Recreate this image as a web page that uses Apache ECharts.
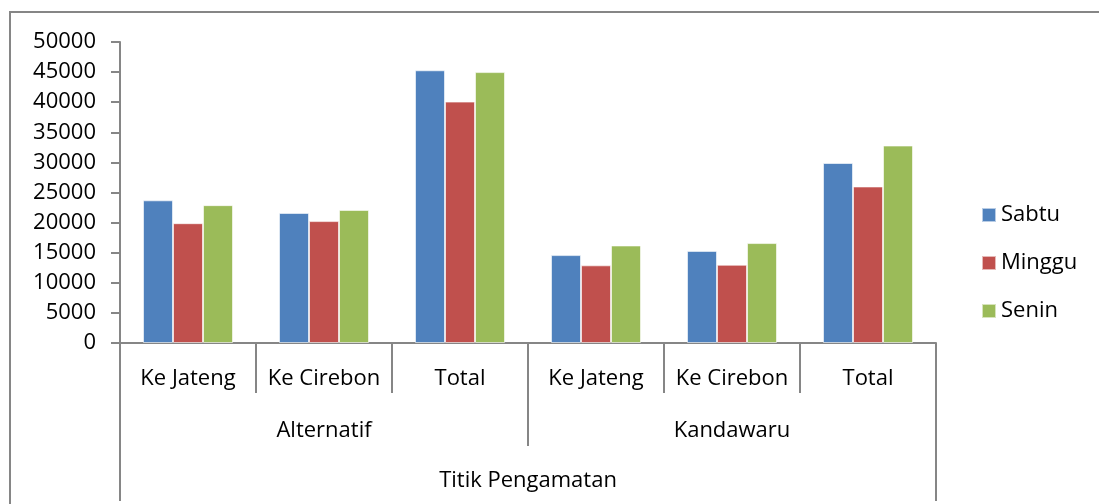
<!DOCTYPE html>
<html>
<head>
<meta charset="utf-8">
<script src="https://cdn.jsdelivr.net/npm/echarts@6/dist/echarts.min.js"></script>
<style>
  html, body { margin: 0; padding: 0; background: #fff; }
  #chart { width: 1099px; height: 504px; }
</style>
</head>
<body>
<div id="chart"></div>
<script>
// categories
var points = ['Ke Jateng', 'Ke Cirebon', 'Total', 'Ke Jateng', 'Ke Cirebon', 'Total'];
var groups = ['Alternatif', 'Kandawaru'];
var outer = ['Titik Pengamatan'];

// series values
var sabtu = [23700, 21600, 45300, 14600, 15300, 29900];
var minggu = [19900, 20250, 40100, 12900, 13000, 26000];
var senin = [22900, 22100, 45000, 16200, 16600, 32800];

var FONT = '"Open Sans", sans-serif';
var gray = '#868686';

var chart = echarts.init(document.getElementById('chart'));

function bar(name, data, color) {
  return {
    name: name,
    type: 'bar',
    data: data,
    barWidth: 30,
    barGap: '0%',
    itemStyle: { color: color, borderColor: 'rgba(255,255,255,0.6)', borderWidth: 1 }
  };
}

var catAxisBase = {
  type: 'category',
  position: 'bottom',
  gridIndex: 0,
  axisLine: { show: false },
  splitLine: { show: false }
};

chart.setOption({
  animation: false,
  textStyle: { fontFamily: FONT },
  graphic: [{
    type: 'polyline',
    shape: { points: [[10, 510], [10, 12], [1110, 12]] },
    style: { stroke: gray, lineWidth: 2, fill: null }
  }],
  grid: { left: 120, right: 163, top: 42, bottom: 161 },
  legend: {
    orient: 'vertical',
    left: 976,
    top: 199,
    itemWidth: 14,
    itemHeight: 14,
    itemGap: 26,
    icon: 'rect',
    textStyle: { fontFamily: FONT, fontSize: 22, color: '#000' },
    data: ['Sabtu', 'Minggu', 'Senin']
  },
  xAxis: [
    Object.assign({}, catAxisBase, {
      data: points,
      axisLine: { show: true, lineStyle: { color: gray, width: 2 } },
      axisTick: { show: true, interval: 0, length: 50, lineStyle: { color: gray, width: 2 } },
      axisLabel: { interval: 0, color: '#000', fontFamily: FONT, fontSize: 22, margin: 25 }
    }),
    Object.assign({}, catAxisBase, {
      data: groups,
      axisTick: { show: true, interval: 0, length: 103, lineStyle: { color: gray, width: 2 } },
      axisLabel: { interval: 0, color: '#000', fontFamily: FONT, fontSize: 22, margin: 77 }
    }),
    Object.assign({}, catAxisBase, {
      data: outer,
      axisTick: { show: true, interval: 0, length: 158, lineStyle: { color: gray, width: 2 } },
      axisLabel: { interval: 0, color: '#000', fontFamily: FONT, fontSize: 22, margin: 127 }
    })
  ],
  yAxis: {
    type: 'value',
    min: 0,
    max: 50000,
    interval: 5000,
    axisLine: { show: true, lineStyle: { color: gray, width: 2 } },
    axisTick: { show: true, length: 9, lineStyle: { color: gray, width: 2 } },
    axisLabel: {
      color: '#000', fontFamily: FONT, fontSize: 22, margin: 24,
      formatter: function (v) { return String(v); }
    },
    splitLine: { show: false }
  },
  series: [
    bar('Sabtu', sabtu, '#4F81BD'),
    bar('Minggu', minggu, '#C0504D'),
    bar('Senin', senin, '#9BBB59')
  ]
});
</script>
</body>
</html>
